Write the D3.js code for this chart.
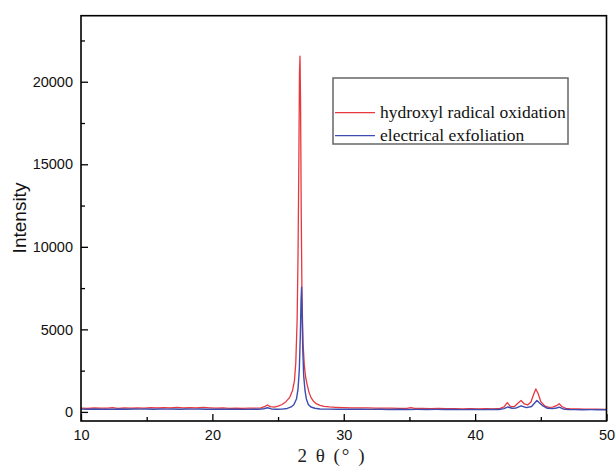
<!DOCTYPE html>
<html>
<head>
<meta charset="utf-8">
<script src="https://cdn.jsdelivr.net/npm/d3@7"></script>
<style>
  body { margin: 0; background: #fff; }
  .tick text { font-family: "Liberation Sans", Arial, sans-serif; font-size: 14.5px; fill: #111; }
  .tick line { stroke: #000; stroke-width: 1.3px; }
</style>
</head>
<body>
<svg id="chart" width="615" height="467"></svg>
<script>
// series: 2theta (deg) and intensity
var redAngles = [10, 10.5, 11, 11.5, 12, 12.4, 12.8, 13.3, 13.8, 14.3, 14.8, 15.3, 15.8, 16.3, 16.8, 17.3, 17.8, 18.3, 18.8, 19.3,
    19.8, 20.3, 20.8, 21.3, 21.8, 22.3, 22.8, 23.3, 23.7, 24.0, 24.2, 24.4, 24.7, 25.0, 25.3, 25.6, 25.9, 26.1, 26.25, 26.35,
    26.45, 26.52, 26.58, 26.63, 26.67, 26.71, 26.76, 26.82, 26.9, 27.0, 27.1, 27.2, 27.35, 27.5, 27.7, 27.9, 28.2, 28.5, 28.9, 29.4,
    30, 30.6, 31.2, 31.8, 32.4, 33, 33.6, 34.2, 34.8, 35.1, 35.4, 36, 36.6, 37.2, 37.8, 38.4, 39, 39.6, 40.2, 40.8,
    41.4, 41.9, 42.2, 42.45, 42.7, 43.0, 43.25, 43.5, 43.75, 44.0, 44.25, 44.45, 44.62, 44.8, 45.0, 45.3, 45.6, 45.9, 46.2, 46.4,
    46.6, 46.9, 47.3, 47.8, 48.3, 48.8, 49.3, 50];
var redValues = [230, 215, 240, 225, 235, 260, 220, 240, 230, 250, 235, 255, 245, 265, 240, 270, 250, 260, 245, 270,
    250, 230, 245, 220, 235, 210, 225, 230, 250, 330, 420, 320, 290, 350, 450, 620, 900, 1300, 1900, 3000,
    5500, 9500, 15000, 20500, 21550, 19000, 12500, 7000, 4200, 2800, 2100, 1700, 1200, 880, 640, 500, 400, 340, 300, 280,
    265, 250, 240, 250, 230, 225, 235, 215, 220, 260, 210, 215, 200, 210, 195, 205, 190, 200, 185, 195,
    190, 210, 300, 560, 320, 330, 520, 690, 480, 420, 600, 1050, 1390, 1100, 620, 360, 280, 290, 380, 500,
    330, 220, 190, 180, 175, 170, 165, 160];

var blueAngles = [10, 10.5, 11, 11.5, 12, 12.5, 13, 13.5, 14, 14.5, 15, 15.5, 16, 16.5, 17, 17.5, 18, 18.5, 19, 19.5,
    20, 20.5, 21, 21.5, 22, 22.5, 23, 23.5, 23.9, 24.2, 24.5, 24.9, 25.3, 25.7, 26.0, 26.2, 26.4, 26.52, 26.62, 26.7,
    26.75, 26.79, 26.83, 26.88, 26.95, 27.05, 27.15, 27.3, 27.5, 27.8, 28.2, 28.8, 29.5, 30, 30.7, 31.4, 32.1, 32.8, 33.5, 34.2,
    34.9, 35.6, 36.3, 37, 37.7, 38.4, 39.1, 39.8, 40.5, 41.2, 41.8, 42.2, 42.5, 42.8, 43.1, 43.5, 43.9, 44.3, 44.7, 45.1,
    45.5, 45.9, 46.2, 46.4, 46.7, 47.1, 47.6, 48.2, 48.8, 49.4, 50];
var blueValues = [170, 160, 175, 165, 170, 160, 175, 165, 180, 170, 175, 165, 180, 170, 175, 165, 180, 170, 175, 165,
    170, 160, 170, 160, 165, 155, 160, 165, 190, 250, 180, 160, 170, 210, 300, 430, 780, 1400, 2600, 4800,
    6800, 7550, 6000, 3800, 2200, 1300, 800, 450, 300, 220, 180, 170, 165, 170, 160, 165, 155, 160, 150, 158,
    150, 155, 148, 152, 145, 150, 142, 148, 140, 145, 150, 200, 300, 220, 230, 370, 260, 330, 690, 400,
    220, 200, 240, 290, 180, 145, 140, 135, 138, 132, 130];

var seriesNames = ["hydroxyl radical oxidation", "electrical exfoliation"];
var seriesColors = ["#e8383f", "#3c4cb0"];

var xMajor = [10, 20, 30, 40, 50];
var xMinor = [15, 25, 35, 45];
var yMajor = [0, 5000, 10000, 15000, 20000];
var yMinor = [2500, 7500, 12500, 17500, 22500];

var svg = d3.select("#chart");
var plotLeft = 81, plotRight = 606.5, plotTop = 15.7, plotBottom = 421;

var x = d3.scaleLinear().domain([10, 50]).range([plotLeft, plotRight]);
var y = d3.scaleLinear().domain([-550, 24000]).range([plotBottom, plotTop]);

// axes, ticks point inward
svg.append("g")
    .attr("transform", "translate(0," + plotBottom + ")")
    .call(d3.axisBottom(x).tickValues(xMajor).tickSize(-7).tickPadding(9).tickFormat(d3.format("d")))
    .call(function (g) { g.select(".domain").remove(); });
svg.append("g")
    .attr("transform", "translate(0," + plotBottom + ")")
    .call(d3.axisBottom(x).tickValues(xMinor).tickSize(-4).tickFormat(""))
    .call(function (g) { g.select(".domain").remove(); });
svg.append("g")
    .attr("transform", "translate(" + plotLeft + ",0)")
    .call(d3.axisLeft(y).tickValues(yMajor).tickSize(-7).tickPadding(8).tickFormat(d3.format("d")))
    .call(function (g) { g.select(".domain").remove(); });
svg.append("g")
    .attr("transform", "translate(" + plotLeft + ",0)")
    .call(d3.axisLeft(y).tickValues(yMinor).tickSize(-4).tickFormat(""))
    .call(function (g) { g.select(".domain").remove(); });

var line = d3.line()
    .x(function (d) { return x(d[0]); })
    .y(function (d) { return y(d[1]); });

var redData = d3.zip(redAngles, redValues);
var blueData = d3.zip(blueAngles, blueValues);

svg.append("path")
    .datum(redData)
    .attr("fill", "none")
    .attr("stroke", seriesColors[0])
    .attr("stroke-width", 1.3)
    .attr("stroke-linejoin", "round")
    .attr("d", line);

svg.append("path")
    .datum(blueData)
    .attr("fill", "none")
    .attr("stroke", seriesColors[1])
    .attr("stroke-width", 1.4)
    .attr("stroke-linejoin", "round")
    .attr("d", line);

// frame
svg.append("rect")
    .attr("x", plotLeft)
    .attr("y", plotTop)
    .attr("width", plotRight - plotLeft)
    .attr("height", plotBottom - plotTop)
    .attr("fill", "none")
    .attr("stroke", "#000")
    .attr("stroke-width", 1.6);

// axis titles
svg.append("text")
    .attr("transform", "translate(26,218) rotate(-90)")
    .attr("text-anchor", "middle")
    .style("font-family", "'Liberation Sans', Arial, sans-serif")
    .style("font-size", "19px")
    .style("fill", "#111")
    .text("Intensity");

svg.append("text")
    .attr("x", 332)
    .attr("y", 462)
    .attr("text-anchor", "middle")
    .style("font-family", "'Liberation Serif', serif")
    .style("font-size", "19px")
    .style("letter-spacing", "2px")
    .style("fill", "#222")
    .text("2 θ (° )");

// legend
var legend = svg.append("g");
legend.append("rect")
    .attr("x", 333)
    .attr("y", 78)
    .attr("width", 235)
    .attr("height", 66)
    .attr("fill", "#fff")
    .attr("stroke", "#666")
    .attr("stroke-width", 1.5);

var items = legend.selectAll("g.item")
    .data(seriesNames)
    .enter().append("g")
    .attr("class", "item")
    .attr("transform", function (d, i) { return "translate(0," + (112.7 + i * 23) + ")"; });

items.append("line")
    .attr("x1", 335)
    .attr("x2", 375)
    .attr("stroke", function (d, i) { return seriesColors[i]; })
    .attr("stroke-width", 1.2);

items.append("text")
    .attr("x", 380)
    .attr("y", 5.5)
    .style("font-family", "'Liberation Serif', 'Times New Roman', serif")
    .style("font-size", "17.5px")
    .style("fill", "#111")
    .text(function (d) { return d; });
</script>
</body>
</html>
